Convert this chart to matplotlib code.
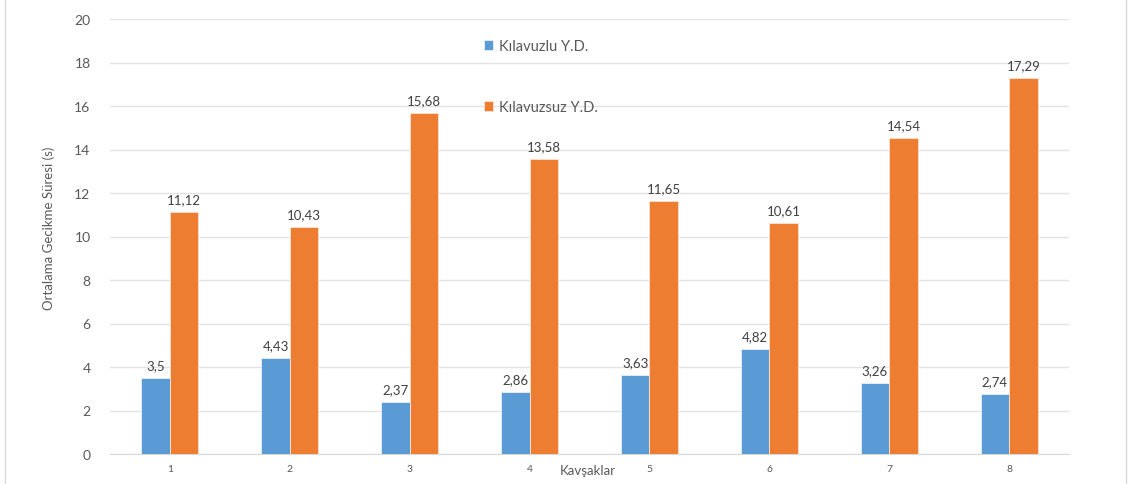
import matplotlib
matplotlib.use("Agg")
import matplotlib.pyplot as plt
from matplotlib.lines import Line2D
import numpy as np

plt.rcParams['font.family'] = ['Lato', 'DejaVu Sans']

categories = ["1", "2", "3", "4", "5", "6", "7", "8"]
kilavuzlu = [3.5, 4.43, 2.37, 2.86, 3.63, 4.82, 3.26, 2.74]
kilavuzsuz = [11.12, 10.43, 15.68, 13.58, 11.65, 10.61, 14.54, 17.29]
series_names = ["Kılavuzlu Y.D.", "Kılavuzsuz Y.D."]
y_ticks = [0, 2, 4, 6, 8, 10, 12, 14, 16, 18, 20]

blue = "#5B9BD5"
orange = "#ED7D31"
text_gray = "#595959"
label_gray = "#404040"
grid_gray = "#E3E3E3"

W, H = 1130, 485
fig = plt.figure(figsize=(W / 100, H / 100), dpi=100)
ax = fig.add_axes([110 / W, 1 - 455 / H, (1069 - 110) / W, (455 - 20) / H])

x = np.arange(1, len(categories) + 1)
bw = 0.238
b1 = ax.bar(x - bw / 2, kilavuzlu, width=bw, color=blue, edgecolor="#EAF1FA",
            linewidth=0.6, label=series_names[0], zorder=3)
b2 = ax.bar(x + bw / 2, kilavuzsuz, width=bw, color=orange, edgecolor="#FBE3D4",
            linewidth=0.6, label=series_names[1], zorder=3)

def fmt(v):
    return f"{v:g}".replace(".", ",")

for rects, vals in ((b1, kilavuzlu), (b2, kilavuzsuz)):
    for r, v in zip(rects, vals):
        ax.annotate(fmt(v), (r.get_x() + r.get_width() / 2, v),
                    xytext=(0, 5), textcoords="offset points",
                    ha="center", va="bottom", fontsize=9.5, color=label_gray)

ax.set_xlim(0.5, 8.5)
ax.set_ylim(0, 20)
ax.set_yticks(y_ticks)
ax.set_yticklabels([str(t) for t in y_ticks])
ax.set_xticks(x)
ax.set_xticklabels(categories)
ax.tick_params(axis="y", length=0, pad=14, labelsize=10, labelcolor=text_gray)
ax.tick_params(axis="x", length=0, pad=7, labelsize=7.5, labelcolor=text_gray)
ax.grid(axis="y", color=grid_gray, linewidth=1, zorder=0)
for side in ("top", "right", "left"):
    ax.spines[side].set_visible(False)
ax.spines["bottom"].set_color("#D9D9D9")

fig.text(588 / W, 1 - 471 / H, "Kavşaklar", ha="center", va="center",
         fontsize=9.5, color=text_gray)
fig.text(49 / W, 1 - 228 / H, "Ortalama Gecikme Süresi (s)", rotation=90,
         ha="center", va="center", fontsize=9.5, color=text_gray)

leg = ax.legend(loc="upper left", bbox_to_anchor=((484 - 110) / (1069 - 110), 1 - 20 / 435),
                frameon=False, fontsize=10.5, labelspacing=3.25, handlelength=0.65,
                handleheight=0.65, handletextpad=0.35, borderpad=0, borderaxespad=0)
for t in leg.get_texts():
    t.set_color(text_gray)

for xp in (5, 1126):
    fig.add_artist(Line2D([xp / W, xp / W], [0, 1], transform=fig.transFigure,
                          color="#D9D9D9", linewidth=1))

fig.savefig("out.png", dpi=100, facecolor="white")
